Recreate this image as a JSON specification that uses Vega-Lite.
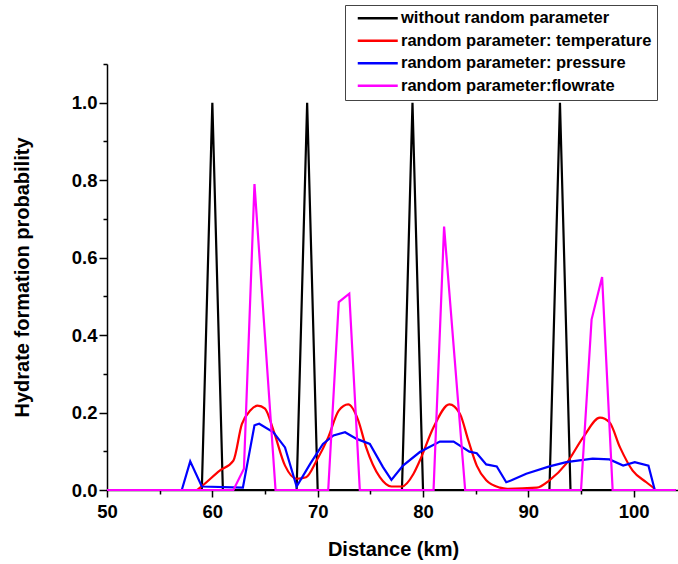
{
  "$schema": "https://vega.github.io/schema/vega-lite/v6.json",
  "width": 572,
  "height": 426,
  "autosize": {"type": "none"},
  "padding": {"left": 107, "top": 64, "right": 0, "bottom": 74},
  "background": "white",
  "config": {"view": {"stroke": null}, "font": "Liberation Sans"},
  "data": {"values": [
    {"s": "without random parameter", "x": 50, "y": 0},
    {"s": "without random parameter", "x": 59, "y": 0},
    {"s": "without random parameter", "x": 60, "y": 1},
    {"s": "without random parameter", "x": 61, "y": 0},
    {"s": "without random parameter", "x": 68, "y": 0},
    {"s": "without random parameter", "x": 69, "y": 1},
    {"s": "without random parameter", "x": 70, "y": 0},
    {"s": "without random parameter", "x": 78, "y": 0},
    {"s": "without random parameter", "x": 79, "y": 1},
    {"s": "without random parameter", "x": 80, "y": 0},
    {"s": "without random parameter", "x": 92, "y": 0},
    {"s": "without random parameter", "x": 93, "y": 1},
    {"s": "without random parameter", "x": 94, "y": 0},
    {"s": "without random parameter", "x": 104, "y": 0},

    {"s": "random parameter: temperature", "x": 50, "y": 0},
    {"s": "random parameter: temperature", "x": 58.5, "y": 0},
    {"s": "random parameter: temperature", "x": 59.0, "y": 0.01},
    {"s": "random parameter: temperature", "x": 60.7, "y": 0.05},
    {"s": "random parameter: temperature", "x": 62.0, "y": 0.076},
    {"s": "random parameter: temperature", "x": 62.8, "y": 0.17},
    {"s": "random parameter: temperature", "x": 63.6, "y": 0.205},
    {"s": "random parameter: temperature", "x": 64.3, "y": 0.218},
    {"s": "random parameter: temperature", "x": 65.0, "y": 0.21},
    {"s": "random parameter: temperature", "x": 65.8, "y": 0.154},
    {"s": "random parameter: temperature", "x": 66.9, "y": 0.063},
    {"s": "random parameter: temperature", "x": 68.0, "y": 0.029},
    {"s": "random parameter: temperature", "x": 68.9, "y": 0.033},
    {"s": "random parameter: temperature", "x": 69.9, "y": 0.076},
    {"s": "random parameter: temperature", "x": 71.0, "y": 0.136},
    {"s": "random parameter: temperature", "x": 72.0, "y": 0.205},
    {"s": "random parameter: temperature", "x": 72.9, "y": 0.221},
    {"s": "random parameter: temperature", "x": 73.85, "y": 0.18},
    {"s": "random parameter: temperature", "x": 74.6, "y": 0.11},
    {"s": "random parameter: temperature", "x": 75.9, "y": 0.033},
    {"s": "random parameter: temperature", "x": 77.0, "y": 0.009},
    {"s": "random parameter: temperature", "x": 78.0, "y": 0.009},
    {"s": "random parameter: temperature", "x": 79.1, "y": 0.042},
    {"s": "random parameter: temperature", "x": 79.7, "y": 0.076},
    {"s": "random parameter: temperature", "x": 81.0, "y": 0.162},
    {"s": "random parameter: temperature", "x": 82.5, "y": 0.221},
    {"s": "random parameter: temperature", "x": 83.5, "y": 0.197},
    {"s": "random parameter: temperature", "x": 84.3, "y": 0.128},
    {"s": "random parameter: temperature", "x": 85.1, "y": 0.063},
    {"s": "random parameter: temperature", "x": 86.0, "y": 0.025},
    {"s": "random parameter: temperature", "x": 87.3, "y": 0.006},
    {"s": "random parameter: temperature", "x": 88.0, "y": 0.003},
    {"s": "random parameter: temperature", "x": 90.8, "y": 0.006},
    {"s": "random parameter: temperature", "x": 92.0, "y": 0.025},
    {"s": "random parameter: temperature", "x": 93.6, "y": 0.068},
    {"s": "random parameter: temperature", "x": 95.2, "y": 0.136},
    {"s": "random parameter: temperature", "x": 96.8, "y": 0.187},
    {"s": "random parameter: temperature", "x": 97.7, "y": 0.175},
    {"s": "random parameter: temperature", "x": 98.7, "y": 0.11},
    {"s": "random parameter: temperature", "x": 99.9, "y": 0.05},
    {"s": "random parameter: temperature", "x": 101.2, "y": 0.02},
    {"s": "random parameter: temperature", "x": 102.0, "y": 0.003},

    {"s": "random parameter: pressure", "x": 50, "y": 0},
    {"s": "random parameter: pressure", "x": 57.1, "y": 0},
    {"s": "random parameter: pressure", "x": 57.9, "y": 0.074},
    {"s": "random parameter: pressure", "x": 59.0, "y": 0.009},
    {"s": "random parameter: pressure", "x": 62.9, "y": 0.006},
    {"s": "random parameter: pressure", "x": 64.0, "y": 0.167},
    {"s": "random parameter: pressure", "x": 64.45, "y": 0.171},
    {"s": "random parameter: pressure", "x": 65.8, "y": 0.149},
    {"s": "random parameter: pressure", "x": 66.9, "y": 0.11},
    {"s": "random parameter: pressure", "x": 68.0, "y": 0.009},
    {"s": "random parameter: pressure", "x": 69.3, "y": 0.068},
    {"s": "random parameter: pressure", "x": 70.5, "y": 0.119},
    {"s": "random parameter: pressure", "x": 71.5, "y": 0.141},
    {"s": "random parameter: pressure", "x": 72.6, "y": 0.149},
    {"s": "random parameter: pressure", "x": 73.7, "y": 0.132},
    {"s": "random parameter: pressure", "x": 74.95, "y": 0.119},
    {"s": "random parameter: pressure", "x": 76.2, "y": 0.059},
    {"s": "random parameter: pressure", "x": 77.0, "y": 0.026},
    {"s": "random parameter: pressure", "x": 78.1, "y": 0.063},
    {"s": "random parameter: pressure", "x": 79.7, "y": 0.098},
    {"s": "random parameter: pressure", "x": 81.6, "y": 0.125},
    {"s": "random parameter: pressure", "x": 82.9, "y": 0.125},
    {"s": "random parameter: pressure", "x": 84.4, "y": 0.099},
    {"s": "random parameter: pressure", "x": 85.1, "y": 0.095},
    {"s": "random parameter: pressure", "x": 86.0, "y": 0.066},
    {"s": "random parameter: pressure", "x": 87.0, "y": 0.061},
    {"s": "random parameter: pressure", "x": 87.9, "y": 0.02},
    {"s": "random parameter: pressure", "x": 88.4, "y": 0.025},
    {"s": "random parameter: pressure", "x": 89.8, "y": 0.042},
    {"s": "random parameter: pressure", "x": 92.0, "y": 0.061},
    {"s": "random parameter: pressure", "x": 93.6, "y": 0.072},
    {"s": "random parameter: pressure", "x": 96.1, "y": 0.081},
    {"s": "random parameter: pressure", "x": 97.7, "y": 0.079},
    {"s": "random parameter: pressure", "x": 99.0, "y": 0.063},
    {"s": "random parameter: pressure", "x": 100.1, "y": 0.072},
    {"s": "random parameter: pressure", "x": 101.4, "y": 0.063},
    {"s": "random parameter: pressure", "x": 102.0, "y": 0.0},

    {"s": "random parameter:flowrate", "x": 50, "y": 0},
    {"s": "random parameter:flowrate", "x": 62, "y": 0},
    {"s": "random parameter:flowrate", "x": 63, "y": 0.055},
    {"s": "random parameter:flowrate", "x": 64, "y": 0.79},
    {"s": "random parameter:flowrate", "x": 65, "y": 0.395},
    {"s": "random parameter:flowrate", "x": 66, "y": 0},
    {"s": "random parameter:flowrate", "x": 71, "y": 0},
    {"s": "random parameter:flowrate", "x": 72, "y": 0.485},
    {"s": "random parameter:flowrate", "x": 73, "y": 0.507},
    {"s": "random parameter:flowrate", "x": 74, "y": 0},
    {"s": "random parameter:flowrate", "x": 81, "y": 0},
    {"s": "random parameter:flowrate", "x": 82, "y": 0.68},
    {"s": "random parameter:flowrate", "x": 83, "y": 0.34},
    {"s": "random parameter:flowrate", "x": 84, "y": 0},
    {"s": "random parameter:flowrate", "x": 95, "y": 0},
    {"s": "random parameter:flowrate", "x": 96, "y": 0.44},
    {"s": "random parameter:flowrate", "x": 97, "y": 0.55},
    {"s": "random parameter:flowrate", "x": 98, "y": 0},
    {"s": "random parameter:flowrate", "x": 104, "y": 0}
  ]},
  "encoding": {
    "x": {
      "field": "x", "type": "quantitative",
      "scale": {"domain": [50, 104.3], "nice": false, "zero": false},
      "axis": {
        "zindex": 0,
        "values": [50, 55, 60, 65, 70, 75, 80, 85, 90, 95, 100],
        "labelExpr": "datum.value % 10 === 0 ? datum.label : ''",
        "tickSize": {"condition": {"test": "datum.value % 10 === 0", "value": 7}, "value": 4},
        "title": "Distance (km)",
        "titleFont": "Liberation Sans", "titleFontSize": 20, "titleFontWeight": "bold", "titleColor": "black",
        "labelFont": "Liberation Sans", "labelFontSize": 18.5, "labelFontWeight": "bold", "labelColor": "black",
        "domainColor": "black", "domainWidth": 1.5, "tickColor": "black", "tickWidth": 1.5,
        "grid": false, "labelPadding": 5, "titlePadding": 19, "labelFlush": false, "labelOverlap": false
      }
    },
    "y": {
      "field": "y", "type": "quantitative",
      "scale": {"domain": [0, 1.1], "nice": false},
      "axis": {
        "zindex": 0,
        "values": [0, 0.1, 0.2, 0.3, 0.4, 0.5, 0.6, 0.7, 0.8, 0.9, 1.0, 1.1],
        "labelExpr": "round(datum.value * 10) % 2 === 0 ? format(datum.value, '.1f') : ''",
        "tickSize": {"condition": {"test": "round(datum.value * 10) % 2 === 0", "value": 8}, "value": 4},
        "title": "Hydrate formation probability",
        "titleFont": "Liberation Sans", "titleFontSize": 20, "titleFontWeight": "bold", "titleColor": "black",
        "labelFont": "Liberation Sans", "labelFontSize": 18.5, "labelFontWeight": "bold", "labelColor": "black",
        "domainColor": "black", "domainWidth": 1.5, "tickColor": "black", "tickWidth": 1.5,
        "grid": false, "labelPadding": 2, "titlePadding": 39, "labelFlush": false, "labelOverlap": false
      }
    },
    "color": {
      "field": "s", "type": "nominal",
      "scale": {
        "domain": ["without random parameter", "random parameter: temperature", "random parameter: pressure", "random parameter:flowrate"],
        "range": ["#000000", "#FF0000", "#0000FF", "#FF00FF"]
      },
      "legend": {
        "title": null, "orient": "none", "legendX": 238, "legendY": -59,
        "symbolType": "M-4,0H4", "symbolSize": 100, "symbolStrokeWidth": 2.5,
        "symbolOffset": 19.5, "labelOffset": 15,
        "labelFont": "Liberation Sans", "labelFontSize": 16.5, "labelFontWeight": "bold", "labelColor": "black",
        "labelLimit": 400, "padding": 5, "rowPadding": 5.5,
        "strokeColor": "#444444", "fillColor": "white",
        "encode": {"symbols": {"update": {"stroke": {"scale": "color", "field": "value"}, "strokeWidth": {"value": 2.5}, "fill": {"value": "transparent"}}}}
      }
    }
  },
  "layer": [
    {"transform": [{"filter": "datum.s === 'without random parameter'"}], "mark": {"type": "line", "strokeWidth": 2.2}},
    {"transform": [{"filter": "datum.s === 'random parameter: temperature'"}], "mark": {"type": "line", "strokeWidth": 2.2, "interpolate": "monotone"}},
    {"transform": [{"filter": "datum.s === 'random parameter: pressure'"}], "mark": {"type": "line", "strokeWidth": 2.2}},
    {"transform": [{"filter": "datum.s === 'random parameter:flowrate'"}], "mark": {"type": "line", "strokeWidth": 2.2}}
  ]
}
